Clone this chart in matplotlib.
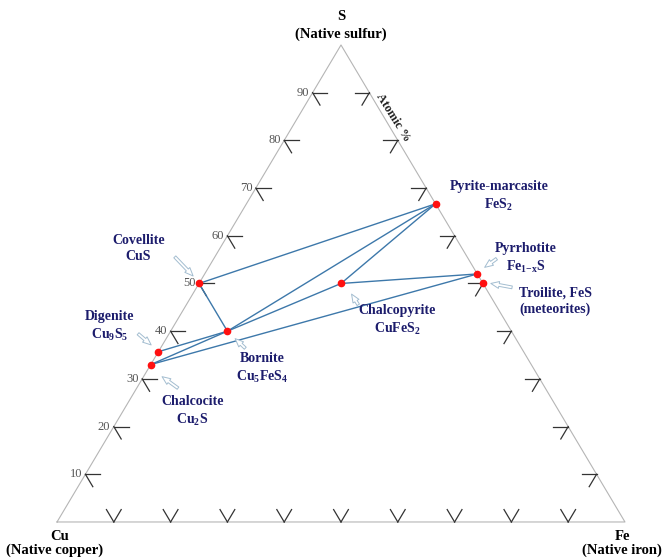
import matplotlib.pyplot as plt
import numpy as np

plt.rcParams['font.family'] = ['Liberation Serif', 'DejaVu Serif']
plt.rcParams['mathtext.fontset'] = 'custom'
plt.rcParams['mathtext.rm'] = 'Liberation Serif:bold'
plt.rcParams['mathtext.it'] = 'Liberation Serif:bold'
plt.rcParams['mathtext.bf'] = 'Liberation Serif:bold'

# compositions in atomic % (Cu, Fe, S)
minerals = ["Pyrite", "Pyrrhotite", "Troilite", "Chalcopyrite",
            "Covellite", "Bornite", "Digenite", "Chalcocite"]
cu = [0.0, 0.0, 0.0, 25.0, 50.0, 50.0, 64.3, 67.0]
fe = [33.3, 48.0, 50.0, 25.0, 0.0, 10.0, 0.0, 0.0]
s = [66.7, 52.0, 50.0, 50.0, 50.0, 40.0, 35.7, 33.0]

tie_lines = [("Covellite", "Pyrite"), ("Covellite", "Bornite"),
             ("Bornite", "Pyrite"), ("Chalcopyrite", "Pyrite"),
             ("Chalcopyrite", "Pyrrhotite"), ("Bornite", "Chalcopyrite"),
             ("Digenite", "Bornite"), ("Chalcocite", "Bornite"),
             ("Chalcocite", "Pyrrhotite")]

labels = {
    "Pyrite": "Pyrite-marcasite\nFeS$_\\mathrm{2}$",
    "Pyrrhotite": "Pyrrhotite\nFe$_\\mathrm{1\\!-\\!x}$S",
    "Troilite": "Troilite, FeS\n(meteorites)",
    "Chalcopyrite": "Chalcopyrite\nCuFeS$_\\mathrm{2}$",
    "Covellite": "Covellite\nCuS",
    "Bornite": "Bornite\nCu$_\\mathrm{5}$FeS$_\\mathrm{4}$",
    "Digenite": "Digenite\nCu$_\\mathrm{9}$S$_\\mathrm{5}$",
    "Chalcocite": "Chalcocite\nCu$_\\mathrm{2}$S",
}
grid_vals = [10, 20, 30, 40, 50, 60, 70, 80, 90]

H = np.sqrt(3) / 2


def tern(f, sv):
    return f + sv / 2, sv * H


fig = plt.figure(figsize=(6.67, 5.58), dpi=100)
ax = fig.add_axes([0, 0, 1, 1])
ax.set_xlim(-10.04, 107.4)
ax.set_ylim(-6.54, 94.77)
ax.axis('off')

# triangle frame
ax.plot([0, 100, 50, 0], [0, 0, 100 * H, 0], color='#b5b5b5', lw=0.8)

# tick marks: stubs of the grid lines pointing inside
L = 2.6
tk = dict(color='#333333', lw=0.9)
for v in grid_vals:
    x0, y0 = tern(0, v)          # left edge
    ax.plot([x0, x0 + L], [y0, y0], **tk)
    ax.plot([x0, x0 + 0.5 * L], [y0, y0 - H * L], **tk)
    ax.text(x0 - 0.6, y0, str(v), ha='right', va='center',
            fontsize=9, color='#555555')
    x1, y1 = tern(100 - v, v)    # right edge
    ax.plot([x1, x1 - L], [y1, y1], **tk)
    ax.plot([x1, x1 - 0.5 * L], [y1, y1 - H * L], **tk)
    x2, y2 = tern(v, 0)          # bottom edge
    ax.plot([x2, x2 - 0.5 * L], [y2, y2 + H * L], **tk)
    ax.plot([x2, x2 + 0.5 * L], [y2, y2 + H * L], **tk)

xs, ys = tern(np.array(fe), np.array(s))
pos = {m: (xs[i], ys[i]) for i, m in enumerate(minerals)}

for a, b in tie_lines:
    ax.plot([pos[a][0], pos[b][0]], [pos[a][1], pos[b][1]],
            color='#3d78aa', lw=1.0, zorder=2)
ax.plot(xs, ys, 'o', color='#ff1010', ms=4.5, zorder=3)

# label centres and arrow tails, in data units
text_xy = {
    "Pyrite": (77.8, 59.1), "Pyrrhotite": (82.6, 47.8),
    "Troilite": (87.7, 40.1), "Chalcopyrite": (59.9, 36.6),
    "Covellite": (14.3, 49.6), "Bornite": (36.1, 27.9),
    "Digenite": (9.3, 35.5), "Chalcocite": (23.8, 20.1),
}
arrow_tail = {
    "Pyrrhotite": (77.8, 48.1), "Troilite": (80.6, 42.5),
    "Chalcopyrite": (53.3, 39.0), "Covellite": (20.4, 48.5),
    "Bornite": (33.5, 31.2), "Digenite": (13.9, 34.5),
    "Chalcocite": (21.7, 24.0),
}
arrow_gap = {
    "Pyrrhotite": (0.9, 0.9), "Troilite": (0.9, 0.1),
    "Chalcopyrite": (1.6, -1.5), "Covellite": (-0.7, 1.0),
    "Bornite": (1.0, -1.0), "Digenite": (-0.9, 0.9),
    "Chalcocite": (1.6, -1.9),
}
for m in minerals:
    ax.text(*text_xy[m], labels[m], ha='center', va='center', fontsize=10,
            fontweight='bold', color='#1c1c6c', linespacing=1.3)
    if m in arrow_tail:
        hx = pos[m][0] + arrow_gap[m][0]
        hy = pos[m][1] + arrow_gap[m][1]
        ax.annotate('', xy=(hx, hy), xytext=arrow_tail[m],
                    arrowprops=dict(arrowstyle='simple,head_length=0.6,'
                                    'head_width=0.5,tail_width=0.2',
                                    fc='white', ec='#a3bdd0', lw=0.7))

# corner labels
ax.text(50, 100 * H + 5.1, "S", ha='center', va='center', fontsize=10.5,
        fontweight='bold')
ax.text(50, 100 * H + 1.9, "(Native sulfur)", ha='center', va='center',
        fontsize=10.5, fontweight='bold')
ax.text(0.4, -2.6, "Cu", ha='center', va='center', fontsize=10.5,
        fontweight='bold')
ax.text(-0.4, -5.1, "(Native copper)", ha='center', va='center',
        fontsize=10.5, fontweight='bold')
ax.text(99.6, -2.6, "Fe", ha='center', va='center', fontsize=10.5,
        fontweight='bold')
ax.text(99.5, -5.1, "(Native iron)", ha='center', va='center',
        fontsize=10.5, fontweight='bold')
ax.text(59.2, 73.5, "Atomic %", ha='center', va='center', fontsize=9,
        fontweight='bold', rotation=-58, color='#222222')

fig.savefig('out.png', dpi=100)
